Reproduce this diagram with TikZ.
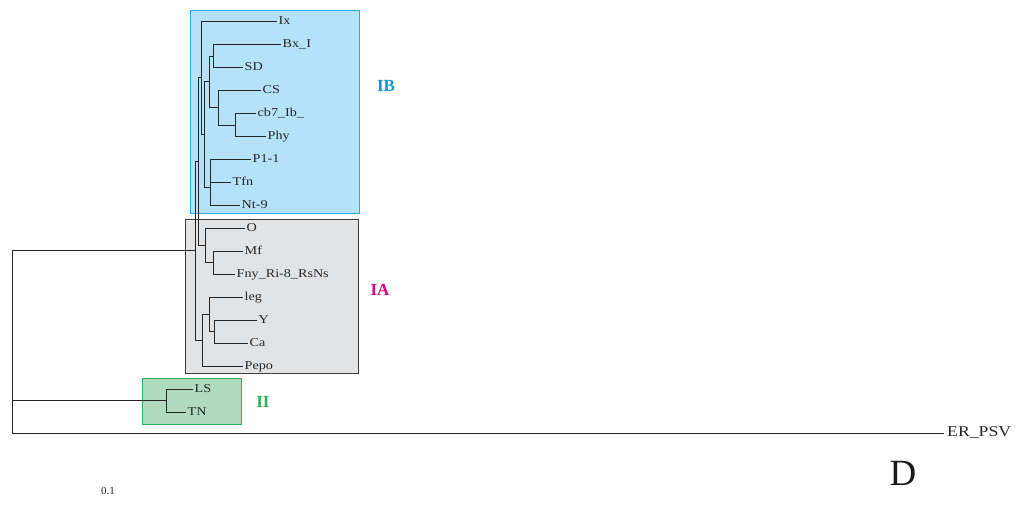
\documentclass[tikz,border=0pt]{standalone}
\usepackage{fontspec}
\setmainfont{Liberation Serif}
\newfontfamily\leaffont[FakeStretch=1.18]{Liberation Serif}
\definecolor{ibfill}{RGB}{180,226,249}
\definecolor{ibedge}{RGB}{40,170,230}
\definecolor{iafill}{RGB}{226,227,229}
\definecolor{iaedge}{RGB}{60,60,60}
\definecolor{iifill}{RGB}{176,219,190}
\definecolor{iiedge}{RGB}{40,175,95}
\definecolor{ibtext}{RGB}{20,150,210}
\definecolor{iatext}{RGB}{225,0,125}
\definecolor{iitext}{RGB}{40,180,80}
\begin{document}
\begin{tikzpicture}[x=1pt,y=-1pt,
  leaf/.style={anchor=west,inner sep=1.5pt,font=\leaffont\fontsize{12}{14}\selectfont,
    text height=0.66em,text depth=0pt,text=black!85},
  branch/.style={draw=black!85,line width=1.6pt},
  cladebox/.style={line width=1.2pt},
  cladelabel/.style={font=\fontsize{17}{19}\selectfont\bfseries}]
\useasboundingbox (0,0) rectangle (1029,504);

% clade boxes
\node[cladebox,draw=ibedge,fill=ibfill,minimum width=169pt,minimum height=203pt,inner sep=0pt,anchor=north west] (boxIB) at (189.5,9.5) {};
\node[cladebox,draw=iaedge,fill=iafill,minimum width=173pt,minimum height=154pt,inner sep=0pt,anchor=north west] (boxIA) at (184.5,218.5) {};
\node[cladebox,draw=iiedge,fill=iifill,minimum width=99pt,minimum height=46pt,inner sep=0pt,anchor=north west] (boxII) at (141.5,377.5) {};

\node[cladelabel,text=ibtext] (labIB) at (386,86) {IB};
\node[cladelabel,text=iatext] (labIA) at (380,290) {IA};
\node[cladelabel,text=iitext] (labII) at (263,402) {II};

% leaves
\node[leaf] (ix)   at (277,21.5)  {Ix};
\node[leaf] (bx)   at (281,44.5)  {Bx\_I};
\node[leaf] (sd)   at (243,67.5)  {SD};
\node[leaf] (cs)   at (261,90.5)  {CS};
\node[leaf] (cb)   at (256,113.5) {cb7\_Ib\_};
\node[leaf] (phy)  at (266,136.5) {Phy};
\node[leaf] (p11)  at (251,159.5) {P1-1};
\node[leaf] (tfn)  at (231,182.5) {Tfn};
\node[leaf] (nt)   at (240,205.5) {Nt-9};
\node[leaf] (o)    at (245,228.5) {O};
\node[leaf] (mf)   at (243,251.5) {Mf};
\node[leaf] (fny)  at (235,274.5) {Fny\_Ri-8\_RsNs};
\node[leaf] (leg)  at (243,297.5) {leg};
\node[leaf] (y)    at (257,320.5) {Y};
\node[leaf] (ca)   at (248,343.5) {Ca};
\node[leaf] (pepo) at (243,366.5) {Pepo};
\node[leaf] (ls)   at (193,389.5) {LS};
\node[leaf] (tn)   at (186,412.5) {TN};
\node[leaf,font=\leaffont\fontsize{15}{17}\selectfont,inner sep=3pt] (er) at (944,433.5) {ER\_PSV};

% internal nodes
\coordinate (nA) at (213.5,56.5);
\coordinate (nB) at (235.5,125.5);
\coordinate (nC) at (218.5,107.5);
\coordinate (nD) at (209.5,81.5);
\coordinate (nE) at (210.5,187.5);
\coordinate (nF) at (204.5,134.5);
\coordinate (nG) at (201.5,77.5);
\coordinate (nJ) at (205.5,245.5);
\coordinate (nI) at (213.5,262.5);
\coordinate (nH) at (198.5,161.5);
\coordinate (nL) at (214.5,331.5);
\coordinate (nM) at (209.5,314.5);
\coordinate (nN) at (202.5,340.5);
\coordinate (nK) at (195.5,250.5);
\coordinate (nP) at (166.5,400.5);
\coordinate (root) at (12.5,400.5);

% branches
\draw[branch] (nA) |- (bx.west) (nA) |- (sd.west);
\draw[branch] (nB) |- (cb.west) (nB) |- (phy.west);
\draw[branch] (nC) |- (cs.west) (nC) |- (nB);
\draw[branch] (nD) |- (nA) (nD) |- (nC);
\draw[branch] (nE) |- (p11.west) (nE) |- (tfn.west) (nE) |- (nt.west);
\draw[branch] (nF) |- (nD) (nF) |- (nE);
\draw[branch] (nG) |- (ix.west) (nG) |- (nF);
\draw[branch] (nI) |- (mf.west) (nI) |- (fny.west);
\draw[branch] (nJ) |- (o.west) (nJ) |- (nI);
\draw[branch] (nH) |- (nG) (nH) |- (nJ);
\draw[branch] (nL) |- (y.west) (nL) |- (ca.west);
\draw[branch] (nM) |- (leg.west) (nM) |- (nL);
\draw[branch] (nN) |- (nM) (nN) |- (pepo.west);
\draw[branch] (nK) |- (nH) (nK) |- (nN);
\draw[branch] (nP) |- (ls.west) (nP) |- (tn.west);
\draw[branch] (root) |- (nK) (root) |- (nP) (root) |- (er.west);

% panel letter and scale value
\node[font=\fontsize{37}{40}\selectfont,text=black!90] (panel) at (903,473) {D};
\node[font=\fontsize{11}{13}\selectfont,text=black!85] (scale) at (108,491) {0.1};
\end{tikzpicture}
\end{document}
